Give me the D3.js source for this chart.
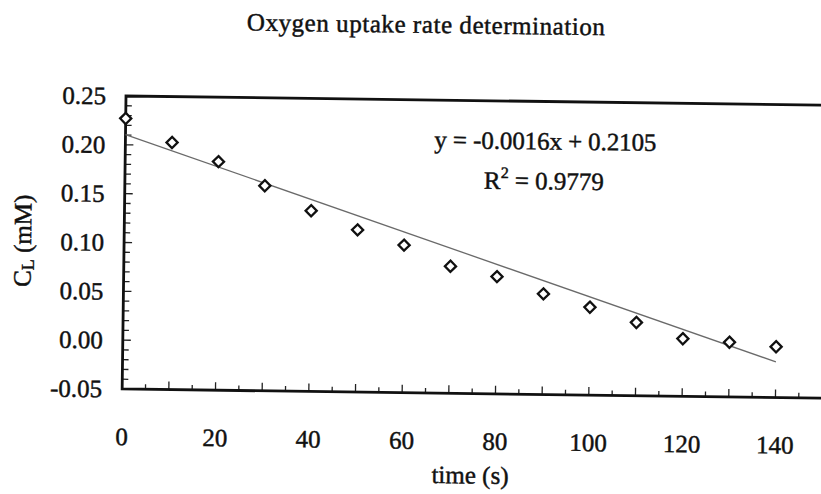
<!DOCTYPE html>
<html>
<head>
<meta charset="utf-8">
<script src="https://cdn.jsdelivr.net/npm/d3@7"></script>
<style>
  body { margin: 0; background: #fff; }
  svg { display: block; }
</style>
</head>
<body>
<div id="chart"></div>
<script>
// values
const times = [0, 10, 20, 30, 40, 50, 60, 70, 80, 90, 100, 110, 120, 130, 140];
const cl = [0.227, 0.203, 0.184, 0.160, 0.135, 0.116, 0.101, 0.080, 0.070, 0.053, 0.040, 0.025, 0.009, 0.006, 0.002];
const xTickLabels = [0, 20, 40, 60, 80, 100, 120, 140];
const yTickLabels = [-0.05, 0.00, 0.05, 0.10, 0.15, 0.20, 0.25];
const fitSlope = -0.0016;
const fitIntercept = 0.2105;
const fitR2 = 0.9779;

let width = 821;
let height = 494;
let marginLeft = 126;
let marginTop = 96;
let plotW = 700;
let plotH = 293;
let font_family = "'Liberation Serif', 'Times New Roman', serif";

const svg = d3.select("#chart")
  .append("svg")
  .attr("width", width)
  .attr("height", height);

// the scan is tilted a little clockwise
const g = svg.append("g")
  .attr("transform", `translate(${marginLeft},${marginTop}) rotate(0.75)`)
  .attr("font-family", font_family)
  .attr("fill", "#111");

let xScale = d3.scaleLinear().domain([0, 150]).range([0, plotW]);
let yScale = d3.scaleLinear().domain([-0.05, 0.25]).range([plotH, 0]);

// minor ticks inside the frame
g.append("g")
  .selectAll("line")
  .data(d3.range(-0.05, 0.2501, 0.01))
  .enter().append("line")
    .attr("x1", 0)
    .attr("x2", (d, i) => i % 5 === 0 ? 8 : 6)
    .attr("y1", d => yScale(d))
    .attr("y2", d => yScale(d))
    .attr("stroke", "#222")
    .attr("stroke-width", 1.3);

g.append("g")
  .selectAll("line")
  .data(d3.range(0, 146, 5))
  .enter().append("line")
    .attr("x1", d => xScale(d))
    .attr("x2", d => xScale(d))
    .attr("y1", plotH)
    .attr("y2", (d, i) => plotH - (i % 2 === 0 ? 8 : 5))
    .attr("stroke", "#222")
    .attr("stroke-width", 1.3);

// frame: left, top, bottom
g.append("path")
  .attr("d", `M${plotW},0 L0,0 L0,${plotH} L${plotW},${plotH}`)
  .attr("fill", "none")
  .attr("stroke", "#111")
  .attr("stroke-width", 2.8);

// text in the scan is heavy, a thin stroke thickens it
let label = sel => sel
  .attr("stroke", "#111")
  .attr("stroke-width", 0.45);

// tick labels
g.append("g")
  .call(label)
  .selectAll("text")
  .data(yTickLabels)
  .enter().append("text")
    .attr("x", -20)
    .attr("y", d => yScale(d))
    .attr("dy", "0.34em")
    .attr("text-anchor", "end")
    .attr("font-size", "25px")
    .text(d => d.toFixed(2));

g.append("g")
  .call(label)
  .selectAll("text")
  .data(xTickLabels)
  .enter().append("text")
    .attr("x", d => xScale(d))
    .attr("y", plotH + 56)
    .attr("text-anchor", "middle")
    .attr("font-size", "25px")
    .text(d => d);

// trend line from the fitted equation
let fitLine = d3.line()
  .x(d => xScale(d))
  .y(d => yScale(fitSlope * d + fitIntercept));

g.append("path")
  .attr("d", fitLine([times[0], times[times.length - 1]]))
  .attr("fill", "none")
  .attr("stroke", "#6a6a6a")
  .attr("stroke-width", 1.3);

// diamonds
let diamond = d3.symbol().type(d3.symbolSquare).size(62);
g.append("g")
  .selectAll("path")
  .data(times.map((t, i) => ({t: t, v: cl[i]})))
  .enter().append("path")
    .attr("d", diamond)
    .attr("transform", d => `translate(${xScale(d.t)},${yScale(d.v)}) rotate(45)`)
    .attr("fill", "#fff")
    .attr("stroke", "#111")
    .attr("stroke-width", 2.3);

// equation label
g.append("text")
  .call(label)
  .attr("x", 309)
  .attr("y", 48)
  .attr("font-size", "25px")
  .attr("textLength", 222)
  .text(`y = ${fitSlope}x + ${fitIntercept}`);

let r2 = g.append("text")
  .call(label)
  .attr("x", 359)
  .attr("y", 88)
  .attr("font-size", "25px");
r2.append("tspan").text("R");
r2.append("tspan").attr("dy", -11).attr("font-size", "16px").text("2");
r2.append("tspan").attr("dy", 11).text(` = ${fitR2}`);

// titles
g.append("text")
  .call(label)
  .attr("x", 299)
  .attr("y", -67)
  .attr("text-anchor", "middle")
  .attr("font-size", "25px")
  .attr("textLength", 358)
  .text("Oxygen uptake rate determination");

g.append("text")
  .call(label)
  .attr("x", 349)
  .attr("y", plotH + 90)
  .attr("text-anchor", "middle")
  .attr("font-size", "25px")
  .text("time (s)");

let ylab = g.append("text")
  .call(label)
  .attr("transform", `translate(-93,146) rotate(-90)`)
  .attr("text-anchor", "middle")
  .attr("font-size", "25px");
ylab.append("tspan").text("C");
ylab.append("tspan").attr("font-size", "18px").attr("dy", 3).text("L");
ylab.append("tspan").attr("dy", -3).text(" (mM)");
</script>
</body>
</html>
